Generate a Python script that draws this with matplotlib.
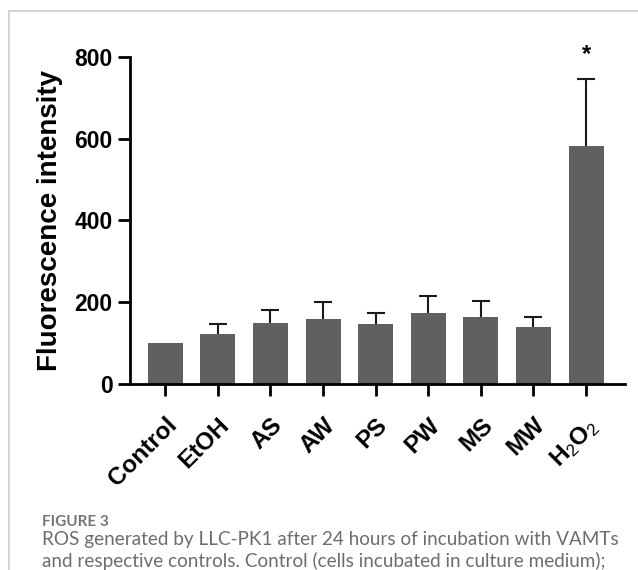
import numpy as np
import matplotlib
matplotlib.use("Agg")
import matplotlib.pyplot as plt
import matplotlib.transforms as mtransforms
from matplotlib.patches import Rectangle

# ---- datos ----
grupos = ["Control", "EtOH", "AS", "AW", "PS", "PW", "MS", "MW", "H$_2$O$_2$"]
medias = [100, 123, 149, 159, 147, 174, 163, 140, 582]
errores = [0, 24, 31, 41, 27, 42, 40, 23, 163]
significativo = [False, False, False, False, False, False, False, False, True]
yticks = [0, 200, 400, 600, 800]

plt.rcParams["font.family"] = ["Liberation Sans", "DejaVu Sans"]
plt.rcParams["mathtext.fontset"] = "custom"
plt.rcParams["mathtext.rm"] = "Liberation Sans"
plt.rcParams["mathtext.it"] = "Liberation Sans:italic"
plt.rcParams["mathtext.bf"] = "Liberation Sans:bold"

W, H = 638, 570
fig = plt.figure(figsize=(W / 100, H / 100), dpi=100)

# marco gris claro alrededor de la figura
fig.patches.append(Rectangle((9 / W, -0.1), 1.2, (H - 11) / H + 0.1,
                             transform=fig.transFigure, fill=False,
                             edgecolor="#c8c8c8", linewidth=1.1))

ax = fig.add_axes([130 / W, (H - 384) / H, (625 - 130) / W, (384 - 56.7) / H])

x = np.arange(len(grupos))
m = np.array(medias)
e = np.array(errores)

ax.bar(x, m, width=0.667, color="#606060", linewidth=0, zorder=2)

con_err = e > 0
ax.vlines(x[con_err], m[con_err], m[con_err] + e[con_err],
          color="#1a1a1a", linewidth=1.5, zorder=1)
ax.plot(x[con_err], m[con_err] + e[con_err], linestyle="none", marker="_",
        markersize=12.5, markeredgewidth=1.5, color="#1a1a1a", zorder=3)

for i, s in enumerate(significativo):
    if s:
        ax.text(x[i], 806, "*", ha="center", va="center", fontsize=17,
                fontweight="bold", clip_on=False)

ax.set_xlim(-0.671, 8.74)
ax.set_ylim(0, 800)
ax.set_yticks(yticks)
ax.set_xticks(x)
ax.set_xticklabels(grupos, rotation=45, ha="right", rotation_mode="anchor",
                   fontsize=17.5, fontweight="bold")
desplaza = mtransforms.ScaledTranslation(-3 / 100, 0, fig.dpi_scale_trans)
for lab in ax.get_xticklabels():
    lab.set_transform(lab.get_transform() + desplaza)
for lab in ax.get_yticklabels():
    lab.set_fontsize(16.5)
    lab.set_fontweight("bold")

ax.set_ylabel("Fluorescence intensity", fontsize=20, fontweight="bold", labelpad=8)

for lado in ["top", "right"]:
    ax.spines[lado].set_visible(False)
for lado in ["left", "bottom"]:
    ax.spines[lado].set_linewidth(2)
ax.tick_params(axis="both", length=8.6, width=2, pad=4)
ax.tick_params(axis="x", pad=12.5)

# pie de figura
fig.text(42 / W, 1 - 521.5 / H, "FIGURE 3", family="Lato", fontsize=11,
         fontweight="bold", color="#747474", va="center")
fig.text(42 / W, 1 - 539 / H,
         "ROS generated by LLC-PK1 after 24 hours of incubation with VAMTs",
         family="Lato", fontsize=13.6, color="#6d6d6d", va="center")
fig.text(42 / W, 1 - 561 / H,
         "and respective controls. Control (cells incubated in culture medium);",
         family="Lato", fontsize=13.6, color="#6d6d6d", va="center")

fig.savefig("out.png", dpi=100)
